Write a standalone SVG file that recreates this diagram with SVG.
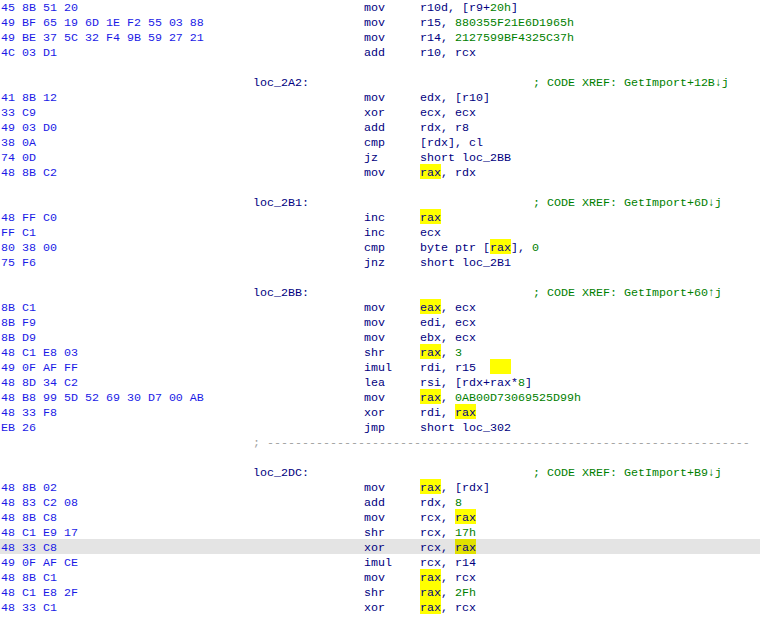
<svg xmlns="http://www.w3.org/2000/svg" width="760" height="618" viewBox="0 0 760 618">
<style>
text{font-family:"Liberation Mono","DejaVu Sans Mono",monospace;font-size:11.67px;white-space:pre}
.b{fill:#1a1ae6}.m{fill:#000080}.n{fill:#008000}.c{fill:#008000}.l{fill:#000080}
.h{fill:#ffff00}.s{fill:#a0a0a0}
</style>
<rect width="760" height="618" fill="#fff"/>
<rect x="0" y="539" width="760" height="15" fill="#e4e4e4"/>
<g id="highlights">
<rect class="h" x="420" y="164" width="21" height="15"/>
<rect class="h" x="420" y="209" width="21" height="15"/>
<rect class="h" x="490" y="239" width="21" height="15"/>
<rect class="h" x="420" y="299" width="21" height="15"/>
<rect class="h" x="420" y="344" width="21" height="15"/>
<rect class="h" x="490" y="359" width="21" height="15"/>
<rect class="h" x="420" y="389" width="21" height="15"/>
<rect class="h" x="455" y="404" width="21" height="15"/>
<rect class="h" x="420" y="479" width="21" height="15"/>
<rect class="h" x="455" y="509" width="21" height="15"/>
<rect x="455" y="539" width="21" height="15" fill="#e0e000"/>
<rect class="h" x="420" y="569" width="21" height="15"/>
<rect class="h" x="420" y="584" width="21" height="15"/>
<rect class="h" x="420" y="599" width="21" height="15"/>
</g>
<g id="bytes" class="b">
<text x="1" y="11">45 8B 51 20</text>
<text x="1" y="26">49 BF 65 19 6D 1E F2 55 03 88</text>
<text x="1" y="41">49 BE 37 5C 32 F4 9B 59 27 21</text>
<text x="1" y="56">4C 03 D1</text>
<text x="1" y="101">41 8B 12</text>
<text x="1" y="116">33 C9</text>
<text x="1" y="131">49 03 D0</text>
<text x="1" y="146">38 0A</text>
<text x="1" y="161">74 0D</text>
<text x="1" y="176">48 8B C2</text>
<text x="1" y="221">48 FF C0</text>
<text x="1" y="236">FF C1</text>
<text x="1" y="251">80 38 00</text>
<text x="1" y="266">75 F6</text>
<text x="1" y="311">8B C1</text>
<text x="1" y="326">8B F9</text>
<text x="1" y="341">8B D9</text>
<text x="1" y="356">48 C1 E8 03</text>
<text x="1" y="371">49 0F AF FF</text>
<text x="1" y="386">48 8D 34 C2</text>
<text x="1" y="401">48 B8 99 5D 52 69 30 D7 00 AB</text>
<text x="1" y="416">48 33 F8</text>
<text x="1" y="431">EB 26</text>
<text x="1" y="491">48 8B 02</text>
<text x="1" y="506">48 83 C2 08</text>
<text x="1" y="521">48 8B C8</text>
<text x="1" y="536">48 C1 E9 17</text>
<text x="1" y="551">48 33 C8</text>
<text x="1" y="566">49 0F AF CE</text>
<text x="1" y="581">48 8B C1</text>
<text x="1" y="596">48 C1 E8 2F</text>
<text x="1" y="611">48 33 C1</text>
</g>
<g id="labels" class="l">
<text x="253" y="86">loc_2A2:</text>
<text x="253" y="206">loc_2B1:</text>
<text x="253" y="296">loc_2BB:</text>
<text x="253" y="446" class="s">; ---------------------------------------------------------------------</text>
<text x="253" y="476">loc_2DC:</text>
</g>
<g id="comments" class="c">
<text x="533" y="86">; CODE XREF: GetImport+12B↓j</text>
<text x="533" y="206">; CODE XREF: GetImport+6D↓j</text>
<text x="533" y="296">; CODE XREF: GetImport+60↑j</text>
<text x="533" y="476">; CODE XREF: GetImport+B9↓j</text>
</g>
<g id="mnemonics" class="m">
<text x="364" y="11">mov</text><text x="364" y="26">mov</text><text x="364" y="41">mov</text><text x="364" y="56">add</text>
<text x="364" y="101">mov</text><text x="364" y="116">xor</text><text x="364" y="131">add</text><text x="364" y="146">cmp</text><text x="364" y="161">jz</text><text x="364" y="176">mov</text>
<text x="364" y="221">inc</text><text x="364" y="236">inc</text><text x="364" y="251">cmp</text><text x="364" y="266">jnz</text>
<text x="364" y="311">mov</text><text x="364" y="326">mov</text><text x="364" y="341">mov</text><text x="364" y="356">shr</text><text x="364" y="371">imul</text><text x="364" y="386">lea</text><text x="364" y="401">mov</text><text x="364" y="416">xor</text><text x="364" y="431">jmp</text>
<text x="364" y="491">mov</text><text x="364" y="506">add</text><text x="364" y="521">mov</text><text x="364" y="536">shr</text><text x="364" y="551">xor</text><text x="364" y="566">imul</text><text x="364" y="581">mov</text><text x="364" y="596">shr</text><text x="364" y="611">xor</text>
</g>
<g id="operands" class="m">
<text x="420" y="11">r10d, [r9+<tspan class="n">20h</tspan>]</text>
<text x="420" y="26">r15, <tspan class="n">880355F21E6D1965h</tspan></text>
<text x="420" y="41">r14, <tspan class="n">2127599BF4325C37h</tspan></text>
<text x="420" y="56">r10, rcx</text>
<text x="420" y="101">edx, [r10]</text>
<text x="420" y="116">ecx, ecx</text>
<text x="420" y="131">rdx, r8</text>
<text x="420" y="146">[rdx], cl</text>
<text x="420" y="161">short loc_2BB</text>
<text x="420" y="176">rax, rdx</text>
<text x="420" y="221">rax</text>
<text x="420" y="236">ecx</text>
<text x="420" y="251">byte ptr [rax], <tspan class="n">0</tspan></text>
<text x="420" y="266">short loc_2B1</text>
<text x="420" y="311">eax, ecx</text>
<text x="420" y="326">edi, ecx</text>
<text x="420" y="341">ebx, ecx</text>
<text x="420" y="356">rax, <tspan class="n">3</tspan></text>
<text x="420" y="371">rdi, r15</text>
<text x="420" y="386">rsi, [rdx+rax*<tspan class="n">8</tspan>]</text>
<text x="420" y="401">rax, <tspan class="n">0AB00D73069525D99h</tspan></text>
<text x="420" y="416">rdi, rax</text>
<text x="420" y="431">short loc_302</text>
<text x="420" y="491">rax, [rdx]</text>
<text x="420" y="506">rdx, <tspan class="n">8</tspan></text>
<text x="420" y="521">rcx, rax</text>
<text x="420" y="536">rcx, <tspan class="n">17h</tspan></text>
<text x="420" y="551">rcx, rax</text>
<text x="420" y="566">rcx, r14</text>
<text x="420" y="581">rax, rcx</text>
<text x="420" y="596">rax, <tspan class="n">2Fh</tspan></text>
<text x="420" y="611">rax, rcx</text>
</g>
</svg>
